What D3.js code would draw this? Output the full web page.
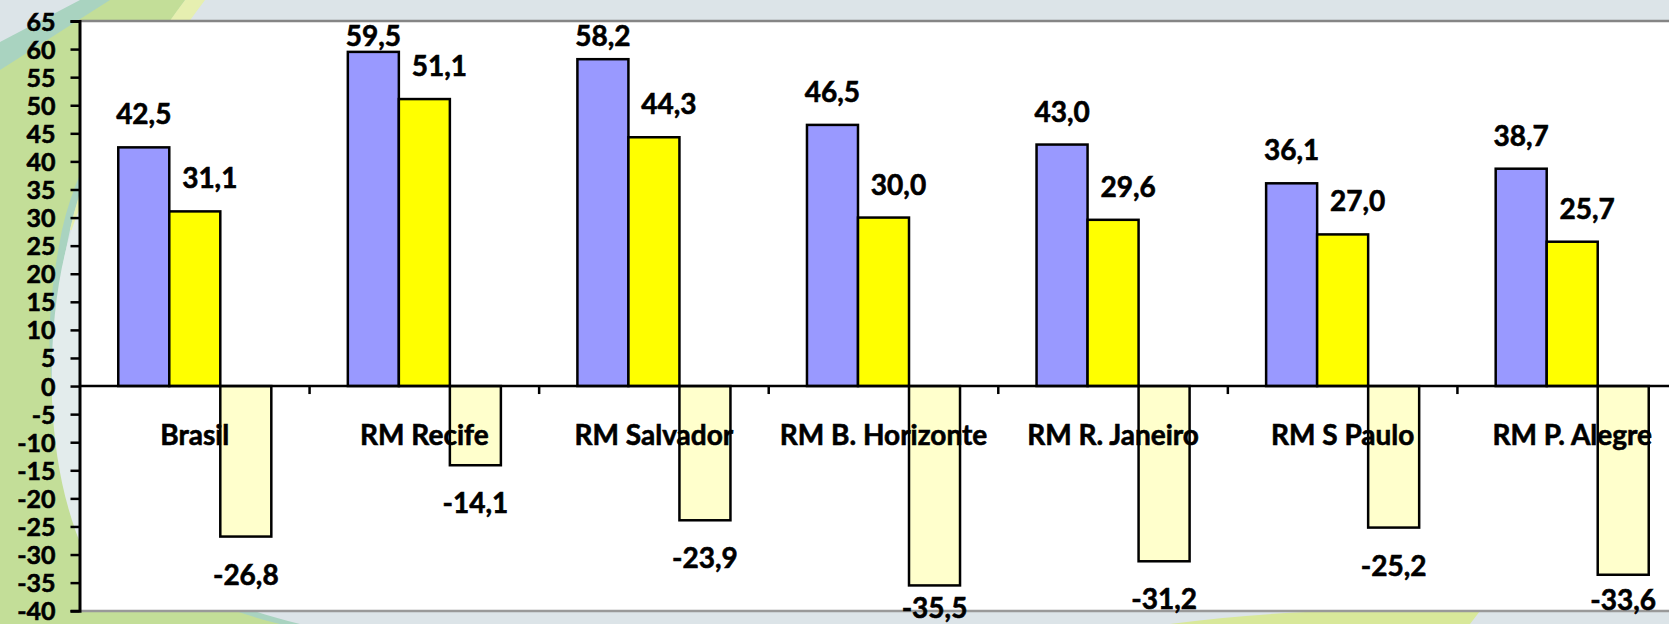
<!DOCTYPE html>
<html><head><meta charset="utf-8">
<script src="https://cdn.jsdelivr.net/npm/d3@7"></script>
<style>
html,body{margin:0;padding:0;overflow:hidden;background:#dce4e8;}
svg{display:block;}
text{font-family:Lato,"Open Sans",sans-serif;font-weight:bold;fill:#000;stroke:#000;stroke-width:0.6px;}
</style></head>
<body>
<svg id="chart" width="1669" height="624"></svg>
<script>
const categories = ["Brasil","RM Recife","RM Salvador","RM B. Horizonte","RM R. Janeiro","RM S Paulo","RM P. Alegre"];
const seriesNames = ["s1","s2","s3"];
const series1 = [42.5, 59.5, 58.2, 46.5, 43.0, 36.1, 38.7];
const series2 = [31.1, 51.1, 44.3, 30.0, 29.6, 27.0, 25.7];
const series3 = [-26.8, -14.1, -23.9, -35.5, -31.2, -25.2, -33.6];
const yTicks = [65,60,55,50,45,40,35,30,25,20,15,10,5,0,-5,-10,-15,-20,-25,-30,-35,-40];
const colors = ["#9999ff","#ffff00","#ffffcc"];

const W = 1669, H = 624;
const svg = d3.select("#chart");
const m = {left:79.5, top:21, right:1687, bottom:611};

// background decoration
const bg = svg.append("g");
bg.append("rect").attr("width",W).attr("height",H).attr("fill","#dce4e8");
bg.append("path").attr("fill","#a9d3c0")
  .attr("d","M0,42 L80,0 L200,0 C150,60 90,140 70,230 C55,300 40,380 90,480 C130,560 200,600 300,624 L0,624 Z");
bg.append("path").attr("fill","#c3de98")
  .attr("d","M0,70 L110,0 L185,0 C135,70 80,150 62,230 C48,300 40,380 70,460 C110,550 180,600 280,624 L0,624 Z");
bg.append("path").attr("fill","#e6efb0")
  .attr("d","M185,0 L205,0 C160,60 105,140 85,230 L70,230 C90,140 140,60 185,0 Z");
bg.append("path").attr("fill","#e3ecec")
  .attr("d","M79,210 C58,260 50,330 52,400 C55,470 70,540 110,600 L79,600 Z");
bg.append("path").attr("fill","#d8e89a")
  .attr("d","M1170,624 C1260,612 1350,608 1480,611 L1470,624 Z");

// plot area
const plotW = W - m.left;
svg.append("rect").attr("x",m.left).attr("y",m.top).attr("width",plotW).attr("height",m.bottom-m.top).attr("fill","#ffffff");

const y = d3.scaleLinear().domain([-40,65]).range([610.7,21]);
const x0 = d3.scaleBand().domain(categories).range([80,1687]).paddingInner(0).paddingOuter(0);
const x1 = d3.scaleBand().domain(seriesNames).range([0,x0.bandwidth()]).paddingInner(0).paddingOuter(0.75);

const data = categories.map((c,i)=>({cat:c, vals:[series1[i],series2[i],series3[i]]}));

// bars
const groups = svg.append("g").selectAll("g").data(data).join("g")
  .attr("transform",d=>`translate(${x0(d.cat)},0)`);
groups.selectAll("rect").data(d=>d.vals.map((v,k)=>({v,k}))).join("rect")
  .attr("x",d=>x1(seriesNames[d.k]))
  .attr("width",x1.bandwidth())
  .attr("y",d=>y(Math.max(0,d.v)))
  .attr("height",d=>Math.abs(y(d.v)-y(0)))
  .attr("fill",d=>colors[d.k])
  .attr("stroke","#000").attr("stroke-width",2.5);

// plot borders top/bottom (gray)
svg.append("line").attr("x1",m.left).attr("x2",W).attr("y1",m.top).attr("y2",m.top).attr("stroke","#858585").attr("stroke-width",2.5);
svg.append("line").attr("x1",m.left).attr("x2",W).attr("y1",m.bottom).attr("y2",m.bottom).attr("stroke","#999999").attr("stroke-width",2.5);

// y axis
const yAxis = d3.axisLeft(y).tickValues(yTicks).tickSize(9).tickPadding(15).tickFormat(d=>String(d));
const ya = svg.append("g").attr("transform",`translate(${m.left},0)`).call(yAxis);
ya.select(".domain").attr("stroke","#000").attr("stroke-width",3);
ya.selectAll(".tick line").attr("stroke","#000").attr("stroke-width",2.5);
ya.selectAll(".tick text").style("font-family","Lato,sans-serif").style("font-weight","bold").style("font-size","25px").attr("fill","#000").attr("dy","0.36em");

// x axis at zero
const boundaries = categories.map(c=>x0(c)).slice(1).concat([x0(categories[categories.length-1])+x0.bandwidth()]);
svg.append("line").attr("x1",m.left).attr("x2",W).attr("y1",y(0)).attr("y2",y(0)).attr("stroke","#000").attr("stroke-width",2.5);
svg.append("g").selectAll("line").data(boundaries).join("line")
  .attr("x1",d=>d).attr("x2",d=>d).attr("y1",y(0)).attr("y2",y(0)+8)
  .attr("stroke","#000").attr("stroke-width",2.5);

// category labels
svg.append("g").selectAll("text").data(categories).join("text")
  .attr("x",c=>x0(c)+x0.bandwidth()/2).attr("y",445)
  .attr("text-anchor","middle").style("font-size","28px")
  .text(c=>c);

// value labels
const fmt = v=>v.toFixed(1).replace(".",",");
const lbl = svg.append("g");
data.forEach(d=>{
  d.vals.forEach((v,k)=>{
    const cx = x0(d.cat)+x1(seriesNames[k])+x1.bandwidth()/2 + (k===1?15:0);
    let yy;
    if(v>=0){
      yy = Math.max(y(v)-23, 46);
      lbl.append("text").attr("x",cx).attr("y",yy).attr("text-anchor","middle").style("font-size","28px").text(fmt(v));
    } else {
      const b = y(v);
      let c = b+38; if(c>600) c = Math.min(b+25, 608);
      lbl.append("text").attr("x",cx).attr("y",c).attr("dy","0.36em").attr("text-anchor","middle").style("font-size","28px").text(fmt(v));
    }
  });
});
</script>
</body></html>
